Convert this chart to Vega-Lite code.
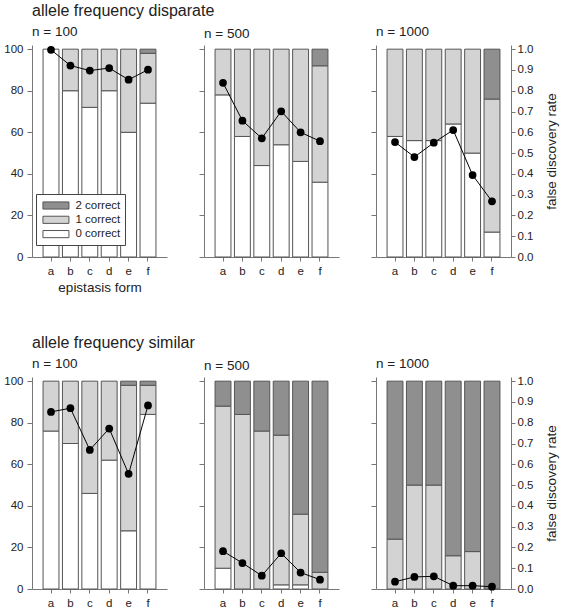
{
  "$schema": "https://vega.github.io/schema/vega-lite/v6.json",
  "padding": {"left": 3, "top": 2, "right": 5, "bottom": 5},
  "config": {
    "font": "Liberation Sans",
    "view": {"stroke": null},
    "axis": {"domainColor": "#777", "tickColor": "#777", "labelColor": "#222", "labelFontSize": 11.5, "tickSize": 5, "labelPadding": 4, "grid": false, "titleFontWeight": "normal", "titleFontSize": 13.5, "titleColor": "#222"},
    "axisX": {"labelAngle": 0, "tickSize": 4, "labelPadding": 4},
    "title": {"anchor": "start", "fontWeight": "normal", "frame": "group", "color": "#222"},
    "concat": {"spacing": 31}
  },
  "datasets": {
    "bars": [
      {"freq": "disparate", "n": 100, "form": "a", "category": "0 correct", "pct": 100},
      {"freq": "disparate", "n": 100, "form": "b", "category": "0 correct", "pct": 80},
      {"freq": "disparate", "n": 100, "form": "b", "category": "1 correct", "pct": 20},
      {"freq": "disparate", "n": 100, "form": "c", "category": "0 correct", "pct": 72},
      {"freq": "disparate", "n": 100, "form": "c", "category": "1 correct", "pct": 28},
      {"freq": "disparate", "n": 100, "form": "d", "category": "0 correct", "pct": 80},
      {"freq": "disparate", "n": 100, "form": "d", "category": "1 correct", "pct": 20},
      {"freq": "disparate", "n": 100, "form": "e", "category": "0 correct", "pct": 60},
      {"freq": "disparate", "n": 100, "form": "e", "category": "1 correct", "pct": 40},
      {"freq": "disparate", "n": 100, "form": "f", "category": "0 correct", "pct": 74},
      {"freq": "disparate", "n": 100, "form": "f", "category": "1 correct", "pct": 24},
      {"freq": "disparate", "n": 100, "form": "f", "category": "2 correct", "pct": 2},
      {"freq": "disparate", "n": 500, "form": "a", "category": "0 correct", "pct": 78},
      {"freq": "disparate", "n": 500, "form": "a", "category": "1 correct", "pct": 22},
      {"freq": "disparate", "n": 500, "form": "b", "category": "0 correct", "pct": 58},
      {"freq": "disparate", "n": 500, "form": "b", "category": "1 correct", "pct": 42},
      {"freq": "disparate", "n": 500, "form": "c", "category": "0 correct", "pct": 44},
      {"freq": "disparate", "n": 500, "form": "c", "category": "1 correct", "pct": 56},
      {"freq": "disparate", "n": 500, "form": "d", "category": "0 correct", "pct": 54},
      {"freq": "disparate", "n": 500, "form": "d", "category": "1 correct", "pct": 46},
      {"freq": "disparate", "n": 500, "form": "e", "category": "0 correct", "pct": 46},
      {"freq": "disparate", "n": 500, "form": "e", "category": "1 correct", "pct": 54},
      {"freq": "disparate", "n": 500, "form": "f", "category": "0 correct", "pct": 36},
      {"freq": "disparate", "n": 500, "form": "f", "category": "1 correct", "pct": 56},
      {"freq": "disparate", "n": 500, "form": "f", "category": "2 correct", "pct": 8},
      {"freq": "disparate", "n": 1000, "form": "a", "category": "0 correct", "pct": 58},
      {"freq": "disparate", "n": 1000, "form": "a", "category": "1 correct", "pct": 42},
      {"freq": "disparate", "n": 1000, "form": "b", "category": "0 correct", "pct": 56},
      {"freq": "disparate", "n": 1000, "form": "b", "category": "1 correct", "pct": 44},
      {"freq": "disparate", "n": 1000, "form": "c", "category": "0 correct", "pct": 56},
      {"freq": "disparate", "n": 1000, "form": "c", "category": "1 correct", "pct": 44},
      {"freq": "disparate", "n": 1000, "form": "d", "category": "0 correct", "pct": 64},
      {"freq": "disparate", "n": 1000, "form": "d", "category": "1 correct", "pct": 36},
      {"freq": "disparate", "n": 1000, "form": "e", "category": "0 correct", "pct": 50},
      {"freq": "disparate", "n": 1000, "form": "e", "category": "1 correct", "pct": 50},
      {"freq": "disparate", "n": 1000, "form": "f", "category": "0 correct", "pct": 12},
      {"freq": "disparate", "n": 1000, "form": "f", "category": "1 correct", "pct": 64},
      {"freq": "disparate", "n": 1000, "form": "f", "category": "2 correct", "pct": 24},
      {"freq": "similar", "n": 100, "form": "a", "category": "0 correct", "pct": 76},
      {"freq": "similar", "n": 100, "form": "a", "category": "1 correct", "pct": 24},
      {"freq": "similar", "n": 100, "form": "b", "category": "0 correct", "pct": 70},
      {"freq": "similar", "n": 100, "form": "b", "category": "1 correct", "pct": 30},
      {"freq": "similar", "n": 100, "form": "c", "category": "0 correct", "pct": 46},
      {"freq": "similar", "n": 100, "form": "c", "category": "1 correct", "pct": 54},
      {"freq": "similar", "n": 100, "form": "d", "category": "0 correct", "pct": 62},
      {"freq": "similar", "n": 100, "form": "d", "category": "1 correct", "pct": 38},
      {"freq": "similar", "n": 100, "form": "e", "category": "0 correct", "pct": 28},
      {"freq": "similar", "n": 100, "form": "e", "category": "1 correct", "pct": 70},
      {"freq": "similar", "n": 100, "form": "e", "category": "2 correct", "pct": 2},
      {"freq": "similar", "n": 100, "form": "f", "category": "0 correct", "pct": 84},
      {"freq": "similar", "n": 100, "form": "f", "category": "1 correct", "pct": 14},
      {"freq": "similar", "n": 100, "form": "f", "category": "2 correct", "pct": 2},
      {"freq": "similar", "n": 500, "form": "a", "category": "0 correct", "pct": 10},
      {"freq": "similar", "n": 500, "form": "a", "category": "1 correct", "pct": 78},
      {"freq": "similar", "n": 500, "form": "a", "category": "2 correct", "pct": 12},
      {"freq": "similar", "n": 500, "form": "b", "category": "1 correct", "pct": 84},
      {"freq": "similar", "n": 500, "form": "b", "category": "2 correct", "pct": 16},
      {"freq": "similar", "n": 500, "form": "c", "category": "1 correct", "pct": 76},
      {"freq": "similar", "n": 500, "form": "c", "category": "2 correct", "pct": 24},
      {"freq": "similar", "n": 500, "form": "d", "category": "0 correct", "pct": 2},
      {"freq": "similar", "n": 500, "form": "d", "category": "1 correct", "pct": 72},
      {"freq": "similar", "n": 500, "form": "d", "category": "2 correct", "pct": 26},
      {"freq": "similar", "n": 500, "form": "e", "category": "0 correct", "pct": 2},
      {"freq": "similar", "n": 500, "form": "e", "category": "1 correct", "pct": 34},
      {"freq": "similar", "n": 500, "form": "e", "category": "2 correct", "pct": 64},
      {"freq": "similar", "n": 500, "form": "f", "category": "1 correct", "pct": 8},
      {"freq": "similar", "n": 500, "form": "f", "category": "2 correct", "pct": 92},
      {"freq": "similar", "n": 1000, "form": "a", "category": "1 correct", "pct": 24},
      {"freq": "similar", "n": 1000, "form": "a", "category": "2 correct", "pct": 76},
      {"freq": "similar", "n": 1000, "form": "b", "category": "1 correct", "pct": 50},
      {"freq": "similar", "n": 1000, "form": "b", "category": "2 correct", "pct": 50},
      {"freq": "similar", "n": 1000, "form": "c", "category": "1 correct", "pct": 50},
      {"freq": "similar", "n": 1000, "form": "c", "category": "2 correct", "pct": 50},
      {"freq": "similar", "n": 1000, "form": "d", "category": "1 correct", "pct": 16},
      {"freq": "similar", "n": 1000, "form": "d", "category": "2 correct", "pct": 84},
      {"freq": "similar", "n": 1000, "form": "e", "category": "1 correct", "pct": 18},
      {"freq": "similar", "n": 1000, "form": "e", "category": "2 correct", "pct": 82},
      {"freq": "similar", "n": 1000, "form": "f", "category": "2 correct", "pct": 100}
    ],
    "fdr": [
      {"freq": "disparate", "n": 100, "form": "a", "fdr": 0.997},
      {"freq": "disparate", "n": 100, "form": "b", "fdr": 0.921},
      {"freq": "disparate", "n": 100, "form": "c", "fdr": 0.897},
      {"freq": "disparate", "n": 100, "form": "d", "fdr": 0.909},
      {"freq": "disparate", "n": 100, "form": "e", "fdr": 0.853},
      {"freq": "disparate", "n": 100, "form": "f", "fdr": 0.901},
      {"freq": "disparate", "n": 500, "form": "a", "fdr": 0.838},
      {"freq": "disparate", "n": 500, "form": "b", "fdr": 0.656},
      {"freq": "disparate", "n": 500, "form": "c", "fdr": 0.571},
      {"freq": "disparate", "n": 500, "form": "d", "fdr": 0.701},
      {"freq": "disparate", "n": 500, "form": "e", "fdr": 0.6},
      {"freq": "disparate", "n": 500, "form": "f", "fdr": 0.557},
      {"freq": "disparate", "n": 1000, "form": "a", "fdr": 0.553},
      {"freq": "disparate", "n": 1000, "form": "b", "fdr": 0.481},
      {"freq": "disparate", "n": 1000, "form": "c", "fdr": 0.55},
      {"freq": "disparate", "n": 1000, "form": "d", "fdr": 0.611},
      {"freq": "disparate", "n": 1000, "form": "e", "fdr": 0.394},
      {"freq": "disparate", "n": 1000, "form": "f", "fdr": 0.268},
      {"freq": "similar", "n": 100, "form": "a", "fdr": 0.852},
      {"freq": "similar", "n": 100, "form": "b", "fdr": 0.87},
      {"freq": "similar", "n": 100, "form": "c", "fdr": 0.669},
      {"freq": "similar", "n": 100, "form": "d", "fdr": 0.772},
      {"freq": "similar", "n": 100, "form": "e", "fdr": 0.554},
      {"freq": "similar", "n": 100, "form": "f", "fdr": 0.883},
      {"freq": "similar", "n": 500, "form": "a", "fdr": 0.182},
      {"freq": "similar", "n": 500, "form": "b", "fdr": 0.125},
      {"freq": "similar", "n": 500, "form": "c", "fdr": 0.064},
      {"freq": "similar", "n": 500, "form": "d", "fdr": 0.172},
      {"freq": "similar", "n": 500, "form": "e", "fdr": 0.079},
      {"freq": "similar", "n": 500, "form": "f", "fdr": 0.045},
      {"freq": "similar", "n": 1000, "form": "a", "fdr": 0.035},
      {"freq": "similar", "n": 1000, "form": "b", "fdr": 0.058},
      {"freq": "similar", "n": 1000, "form": "c", "fdr": 0.061},
      {"freq": "similar", "n": 1000, "form": "d", "fdr": 0.016},
      {"freq": "similar", "n": 1000, "form": "e", "fdr": 0.016},
      {"freq": "similar", "n": 1000, "form": "f", "fdr": 0.011}
    ]
  },
  "spacing": 40,
  "vconcat": [
    {
      "title": {"text": "allele frequency disparate", "fontSize": 16, "offset": 6},
      "hconcat": [
        {
          "width": 135, "height": 212,
          "title": {"text": "n = 100", "fontSize": 13.5, "offset": 5},
          "layer": [
            {"data": {"name": "bars"}, "transform": [{"filter": "datum.freq === 'disparate' && datum.n === 100"}],
             "mark": {"type": "bar", "stroke": "#555", "strokeWidth": 1},
             "encoding": {
               "x": {"field": "form", "type": "nominal", "scale": {"domain": ["a","b","c","d","e","f"], "paddingInner": 0.18, "paddingOuter": 0.57}, "axis": {"title": "epistasis form"}},
               "y": {"field": "pct", "type": "quantitative", "stack": "zero", "scale": {"domain": [0, 102]}, "axis": {"values": [0,20,40,60,80,100], "title": null}},
               "color": {"field": "category", "type": "nominal", "scale": {"domain": ["2 correct","1 correct","0 correct"], "range": ["#8f8f8f","#d3d3d3","#ffffff"]},
                 "legend": {"orient": "none", "legendX": 4, "legendY": 149, "title": null, "strokeColor": "#444", "fillColor": "#fff", "padding": 4.5, "rowPadding": 1.3, "symbolType": "M-0.7,-0.55L3.3,-0.55L3.3,0.55L-0.7,0.55Z", "symbolSize": 169, "symbolStrokeColor": "#555", "symbolStrokeWidth": 1, "labelFontSize": 11.5, "labelOffset": 21, "labelColor": "#222"}},
               "order": {"field": "category", "sort": "ascending"}
             }},
            {"data": {"name": "fdr"}, "transform": [{"filter": "datum.freq === 'disparate' && datum.n === 100"}],
             "mark": {"type": "line", "color": "#000", "strokeWidth": 1, "point": {"filled": true, "size": 60, "color": "#000", "opacity": 1}},
             "encoding": {
               "x": {"field": "form", "type": "nominal"},
               "y": {"field": "fdr", "type": "quantitative", "scale": {"domain": [0, 1.02]}, "axis": null}
             }}
          ],
          "resolve": {"scale": {"y": "independent"}}
        },
        {
          "width": 135, "height": 212,
          "title": {"text": "n = 500", "fontSize": 13.5, "offset": 5},
          "layer": [
            {"data": {"name": "bars"}, "transform": [{"filter": "datum.freq === 'disparate' && datum.n === 500"}],
             "mark": {"type": "bar", "stroke": "#555", "strokeWidth": 1},
             "encoding": {
               "x": {"field": "form", "type": "nominal", "scale": {"domain": ["a","b","c","d","e","f"], "paddingInner": 0.18, "paddingOuter": 0.57}, "axis": {"title": null}},
               "y": {"field": "pct", "type": "quantitative", "stack": "zero", "scale": {"domain": [0, 102]}, "axis": {"values": [0,20,40,60,80,100], "title": null, "labels": false}},
               "color": {"field": "category", "type": "nominal", "legend": null},
               "order": {"field": "category", "sort": "ascending"}
             }},
            {"data": {"name": "fdr"}, "transform": [{"filter": "datum.freq === 'disparate' && datum.n === 500"}],
             "mark": {"type": "line", "color": "#000", "strokeWidth": 1, "point": {"filled": true, "size": 60, "color": "#000", "opacity": 1}},
             "encoding": {
               "x": {"field": "form", "type": "nominal"},
               "y": {"field": "fdr", "type": "quantitative", "scale": {"domain": [0, 1.02]}, "axis": null}
             }}
          ],
          "resolve": {"scale": {"y": "independent"}}
        },
        {
          "width": 135, "height": 212,
          "title": {"text": "n = 1000", "fontSize": 13.5, "offset": 5},
          "layer": [
            {"data": {"name": "bars"}, "transform": [{"filter": "datum.freq === 'disparate' && datum.n === 1000"}],
             "mark": {"type": "bar", "stroke": "#555", "strokeWidth": 1},
             "encoding": {
               "x": {"field": "form", "type": "nominal", "scale": {"domain": ["a","b","c","d","e","f"], "paddingInner": 0.18, "paddingOuter": 0.57}, "axis": {"title": null}},
               "y": {"field": "pct", "type": "quantitative", "stack": "zero", "scale": {"domain": [0, 102]}, "axis": {"values": [0,20,40,60,80,100], "title": null, "labels": false}},
               "color": {"field": "category", "type": "nominal", "legend": null},
               "order": {"field": "category", "sort": "ascending"}
             }},
            {"data": {"name": "fdr"}, "transform": [{"filter": "datum.freq === 'disparate' && datum.n === 1000"}],
             "mark": {"type": "line", "color": "#000", "strokeWidth": 1, "point": {"filled": true, "size": 60, "color": "#000", "opacity": 1}},
             "encoding": {
               "x": {"field": "form", "type": "nominal"},
               "y": {"field": "fdr", "type": "quantitative", "scale": {"domain": [0, 1.02]}, "axis": {"orient": "right", "values": [0,0.1,0.2,0.3,0.4,0.5,0.6,0.7,0.8,0.9,1.0], "format": ".1f", "title": "false discovery rate", "titleAngle": 270, "titleBaseline": "top", "titlePadding": 12, "tickSize": 4, "labelPadding": 2}}
             }}
          ],
          "resolve": {"scale": {"y": "independent"}}
        }
      ]
    },
    {
      "title": {"text": "allele frequency similar", "fontSize": 16, "offset": 6},
      "hconcat": [
        {
          "width": 135, "height": 212,
          "title": {"text": "n = 100", "fontSize": 13.5, "offset": 5},
          "layer": [
            {"data": {"name": "bars"}, "transform": [{"filter": "datum.freq === 'similar' && datum.n === 100"}],
             "mark": {"type": "bar", "stroke": "#555", "strokeWidth": 1},
             "encoding": {
               "x": {"field": "form", "type": "nominal", "scale": {"domain": ["a","b","c","d","e","f"], "paddingInner": 0.18, "paddingOuter": 0.57}, "axis": {"title": null}},
               "y": {"field": "pct", "type": "quantitative", "stack": "zero", "scale": {"domain": [0, 102]}, "axis": {"values": [0,20,40,60,80,100], "title": null}},
               "color": {"field": "category", "type": "nominal", "legend": null},
               "order": {"field": "category", "sort": "ascending"}
             }},
            {"data": {"name": "fdr"}, "transform": [{"filter": "datum.freq === 'similar' && datum.n === 100"}],
             "mark": {"type": "line", "color": "#000", "strokeWidth": 1, "point": {"filled": true, "size": 60, "color": "#000", "opacity": 1}},
             "encoding": {
               "x": {"field": "form", "type": "nominal"},
               "y": {"field": "fdr", "type": "quantitative", "scale": {"domain": [0, 1.02]}, "axis": null}
             }}
          ],
          "resolve": {"scale": {"y": "independent"}}
        },
        {
          "width": 135, "height": 212,
          "title": {"text": "n = 500", "fontSize": 13.5, "offset": 5},
          "layer": [
            {"data": {"name": "bars"}, "transform": [{"filter": "datum.freq === 'similar' && datum.n === 500"}],
             "mark": {"type": "bar", "stroke": "#555", "strokeWidth": 1},
             "encoding": {
               "x": {"field": "form", "type": "nominal", "scale": {"domain": ["a","b","c","d","e","f"], "paddingInner": 0.18, "paddingOuter": 0.57}, "axis": {"title": null}},
               "y": {"field": "pct", "type": "quantitative", "stack": "zero", "scale": {"domain": [0, 102]}, "axis": {"values": [0,20,40,60,80,100], "title": null, "labels": false}},
               "color": {"field": "category", "type": "nominal", "legend": null},
               "order": {"field": "category", "sort": "ascending"}
             }},
            {"data": {"name": "fdr"}, "transform": [{"filter": "datum.freq === 'similar' && datum.n === 500"}],
             "mark": {"type": "line", "color": "#000", "strokeWidth": 1, "point": {"filled": true, "size": 60, "color": "#000", "opacity": 1}},
             "encoding": {
               "x": {"field": "form", "type": "nominal"},
               "y": {"field": "fdr", "type": "quantitative", "scale": {"domain": [0, 1.02]}, "axis": null}
             }}
          ],
          "resolve": {"scale": {"y": "independent"}}
        },
        {
          "width": 135, "height": 212,
          "title": {"text": "n = 1000", "fontSize": 13.5, "offset": 5},
          "layer": [
            {"data": {"name": "bars"}, "transform": [{"filter": "datum.freq === 'similar' && datum.n === 1000"}],
             "mark": {"type": "bar", "stroke": "#555", "strokeWidth": 1},
             "encoding": {
               "x": {"field": "form", "type": "nominal", "scale": {"domain": ["a","b","c","d","e","f"], "paddingInner": 0.18, "paddingOuter": 0.57}, "axis": {"title": null}},
               "y": {"field": "pct", "type": "quantitative", "stack": "zero", "scale": {"domain": [0, 102]}, "axis": {"values": [0,20,40,60,80,100], "title": null, "labels": false}},
               "color": {"field": "category", "type": "nominal", "legend": null},
               "order": {"field": "category", "sort": "ascending"}
             }},
            {"data": {"name": "fdr"}, "transform": [{"filter": "datum.freq === 'similar' && datum.n === 1000"}],
             "mark": {"type": "line", "color": "#000", "strokeWidth": 1, "point": {"filled": true, "size": 60, "color": "#000", "opacity": 1}},
             "encoding": {
               "x": {"field": "form", "type": "nominal"},
               "y": {"field": "fdr", "type": "quantitative", "scale": {"domain": [0, 1.02]}, "axis": {"orient": "right", "values": [0,0.1,0.2,0.3,0.4,0.5,0.6,0.7,0.8,0.9,1.0], "format": ".1f", "title": "false discovery rate", "titleAngle": 270, "titleBaseline": "top", "titlePadding": 12, "tickSize": 4, "labelPadding": 2}}
             }}
          ],
          "resolve": {"scale": {"y": "independent"}}
        }
      ]
    }
  ]
}
